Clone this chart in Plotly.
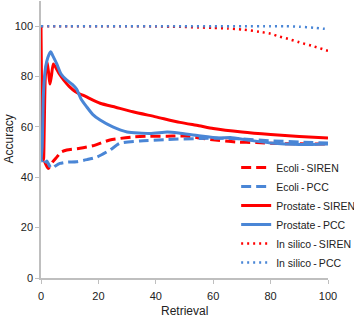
import plotly.graph_objects as go

# Prostate - SIREN
ps_x = [0, 0.4, 0.9, 1.5, 2.1, 2.7, 3.1, 3.6, 4.3, 5.2, 6.4, 8, 9.9, 12, 15.7, 20.6, 26, 32, 40, 48.4, 55, 60, 70, 80, 90, 100]
ps_y = [100, 60, 47, 80, 86, 81, 77, 80, 85, 83.5, 81, 78.5, 76, 74, 72, 69.4, 67.8, 66, 64, 61.8, 60.5, 59.4, 58, 57, 56.2, 55.6]

# Prostate - PCC
pp_x = [0, 0.4, 0.8, 1.4, 2, 2.7, 3.4, 4, 5.5, 7, 9, 11, 12.4, 14, 15.9, 18, 20.6, 25, 30, 38, 44, 48, 55, 62, 66, 72, 80, 90, 100]
pp_y = [47, 52, 72, 82, 86, 88.5, 89.8, 88.5, 85, 81, 78.6, 76.8, 75, 71, 68, 65, 62.7, 60, 58, 57.4, 58, 57.6, 56.5, 55.6, 55.8, 54.8, 53.6, 53, 53.2]

# Ecoli - SIREN
es_x = [0, 1, 2.5, 4, 5.5, 7, 9, 13.6, 18, 24, 32, 38, 44, 50, 59, 68, 75, 83, 90, 100]
es_y = [52, 47, 43.5, 46, 48, 50, 50.8, 51.5, 52.5, 54.8, 56, 56.3, 56.3, 56.4, 55, 54, 53.8, 53.4, 53.3, 53.2]

# Ecoli - PCC
ep_x = [0, 1, 2, 3, 3.7, 5, 6.6, 9, 12.4, 16, 19.4, 24, 27.5, 34.5, 43.8, 55.4, 62, 70, 80, 90, 100]
ep_y = [50, 45, 46.5, 44.5, 43.5, 44.5, 45.5, 46, 46.2, 47, 48, 50.8, 53.5, 54.4, 55, 55.4, 55.5, 55.2, 54.5, 54, 53.6]

# In silico - SIREN
is_x = [0, 10, 20, 30, 40, 45, 50, 55, 60, 65, 70, 76, 80, 83, 86, 90, 95, 100]
is_y = [100, 100, 100, 100, 99.9, 99.8, 99.7, 99.5, 99.3, 99.1, 98.7, 97.8, 97, 95.9, 95, 93.6, 92, 90.2]

# In silico - PCC
ip_x = [0, 10, 20, 30, 40, 50, 60, 70, 80, 85, 90, 95, 100]
ip_y = [100, 100, 100, 100, 100, 100, 100, 100, 100, 100, 99.8, 99.4, 98.8]

tick_vals = [0, 20, 40, 60, 80, 100]

RED = "#ff0000"
BLUE = "#4a86d6"
TS = "\u2009-\u2009"

series = [
    ("Ecoli" + TS + "SIREN", es_x, es_y, RED, "10px,5px", 3),
    ("Ecoli" + TS + "PCC", ep_x, ep_y, BLUE, "10px,5px", 3),
    ("Prostate" + TS + "SIREN", ps_x, ps_y, RED, "solid", 3),
    ("Prostate" + TS + "PCC", pp_x, pp_y, BLUE, "solid", 3),
    ("In silico" + TS + "SIREN", is_x, is_y, RED, "2px,4px", 2.5),
    ("In silico" + TS + "PCC", ip_x, ip_y, BLUE, "2px,4px", 2.5),
]

fig = go.Figure()
for name, xs, ys, c, d, w in series:
    fig.add_trace(go.Scatter(x=xs, y=ys, name=name, mode="lines",
                             line=dict(color=c, dash=d, width=w, shape="spline", smoothing=0.6)))

FONT = "Liberation Sans, Arial"
axis_common = dict(showgrid=False, zeroline=False, showline=True, linecolor="#bfbfbf", linewidth=1.5,
                   ticks="outside", ticklen=4, tickcolor="#bfbfbf", automargin=False,
                   tickfont=dict(family=FONT, size=11, color="#222"))

fig.update_layout(
    width=354, height=318,
    margin=dict(l=41, r=26, t=1, b=40, autoexpand=False),
    paper_bgcolor="white", plot_bgcolor="white",
    font=dict(family=FONT, size=11, color="#222"),
    xaxis=dict(range=[0, 100], tickvals=tick_vals, ticklabelstandoff=3, **axis_common),
    yaxis=dict(range=[0, 110], tickvals=tick_vals, **axis_common),
    legend=dict(x=0.68, y=0.451, xanchor="left", yanchor="top", bgcolor="rgba(0,0,0,0)",
                font=dict(family=FONT, size=10.5, color="#222"), itemwidth=30, tracegroupgap=0),
    annotations=[
        dict(text="Retrieval", xref="paper", yref="paper", x=0.5, y=0, yshift=-33,
             showarrow=False, xanchor="center", yanchor="middle", font=dict(size=12, color="#222")),
        dict(text="Accuracy", xref="paper", yref="paper", x=0, y=0.5, xshift=-33, textangle=-90,
             showarrow=False, xanchor="center", yanchor="middle", font=dict(size=12, color="#222")),
    ],
)

fig.write_html("out.html", config={"displayModeBar": False},
               post_script="document.body.style.margin='0';document.body.style.overflow='hidden';")
